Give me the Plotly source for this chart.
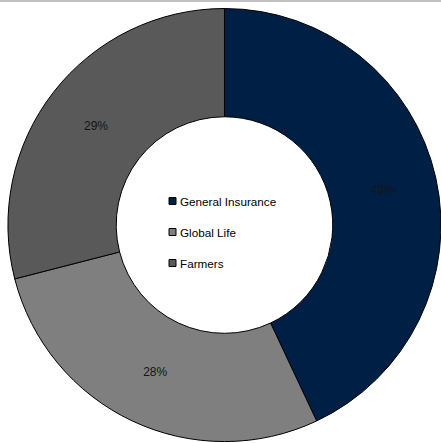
import plotly.graph_objects as go

labels = ["General Insurance", "Global Life", "Farmers"]
values = [43, 28, 29]
colors = ["#001f45", "#7f7f7f", "#595959"]

W, H = 441, 443
FONT = "Liberation Sans, Arial, sans-serif"

fig = go.Figure()
fig.add_trace(go.Pie(
    labels=labels,
    values=values,
    hole=0.5,
    sort=False,
    direction="clockwise",
    rotation=0,
    marker=dict(colors=colors, line=dict(color="#000000", width=1)),
    texttemplate="%{percent:.0%}",
    textposition="inside",
    insidetextorientation="horizontal",
    textfont=dict(family=FONT, size=12, color="#151515"),
    domain=dict(x=[0.018, 1.0], y=[0.002, 0.982]),
    showlegend=False,
))

# legend drawn inside the donut hole (key squares + labels)
legend_left_px = 169
legend_top_px = 201
legend_step_px = 31
box = 7
annotations = []
shapes = [dict(type="rect", xref="paper", yref="paper", x0=0, x1=1, y0=1 - 2 / H, y1=1,
               fillcolor="#c0c0c0", line=dict(width=0), layer="above")]
for i, (lab, col) in enumerate(zip(labels, colors)):
    yc = legend_top_px + i * legend_step_px
    shapes.append(dict(
        type="rect", xref="paper", yref="paper",
        x0=legend_left_px / W, x1=(legend_left_px + box) / W,
        y0=1 - (yc + box / 2) / H, y1=1 - (yc - box / 2) / H,
        fillcolor=col, line=dict(color="#000000", width=1), layer="above",
    ))
    annotations.append(dict(
        text=lab, xref="paper", yref="paper",
        x=(legend_left_px + box + 2) / W, y=1 - yc / H,
        xanchor="left", yanchor="middle", showarrow=False,
        font=dict(family=FONT, size=11.7, color="#000000"),
    ))

fig.update_layout(
    width=W,
    height=H,
    margin=dict(l=0, r=0, t=0, b=0),
    paper_bgcolor="white",
    plot_bgcolor="white",
    showlegend=False,
    shapes=shapes,
    annotations=annotations,
)

fig.write_html(
    "out.html",
    config={"displayModeBar": False},
    post_script="document.body.style.margin='0';document.body.style.overflow='hidden';",
)
